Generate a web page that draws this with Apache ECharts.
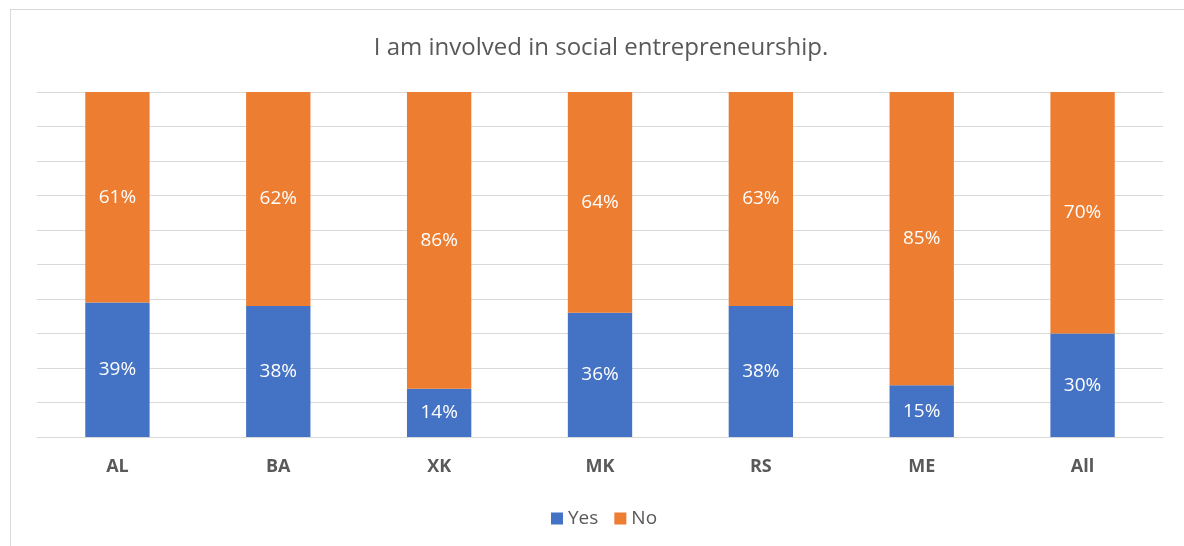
<!DOCTYPE html>
<html>
<head>
<meta charset="utf-8">
<script src="https://cdn.jsdelivr.net/npm/echarts@6/dist/echarts.min.js"></script>
<style>
  html, body { margin: 0; padding: 0; background: #fff; }
  #chart { width: 1184px; height: 546px; }
</style>
</head>
<body>
<div id="chart"></div>
<script>
// Share of respondents involved in social entrepreneurship, by country
const categories = ['AL', 'BA', 'XK', 'MK', 'RS', 'ME', 'All'];
const yesValues = [39, 38, 14, 36, 38, 15, 30];
const noValues = [61, 62, 86, 64, 63, 85, 70];
const seriesNames = ['Yes', 'No'];
const titleText = 'I am involved in social entrepreneurship.';

const FONT = '"Open Sans", "Liberation Sans", sans-serif';
const TEXT_GREY = '#595959';
const GRID_GREY = '#D9D9D9';

const chart = echarts.init(document.getElementById('chart'), null, { renderer: 'canvas' });

const labelStyle = {
  show: true,
  position: 'inside',
  color: '#ffffff',
  fontFamily: FONT,
  fontSize: 19,
  formatter: p => p.value + '%'
};

chart.setOption({
  animation: false,
  backgroundColor: '#ffffff',
  title: {
    text: titleText,
    left: 596,
    textAlign: 'center',
    top: 31,
    textStyle: { color: TEXT_GREY, fontFamily: FONT, fontSize: 24, fontWeight: 'normal' }
  },
  graphic: [
    { type: 'line', shape: { x1: 10, y1: 9.5, x2: 1184, y2: 9.5 }, style: { stroke: GRID_GREY, lineWidth: 1 } },
    { type: 'line', shape: { x1: 10.5, y1: 9, x2: 10.5, y2: 546 }, style: { stroke: GRID_GREY, lineWidth: 1 } }
  ],
  legend: {
    data: seriesNames,
    bottom: 13,
    left: 546,
    itemWidth: 12,
    itemHeight: 12,
    itemGap: 16,
    icon: 'rect',
    textStyle: { color: TEXT_GREY, fontFamily: FONT, fontSize: 19 }
  },
  grid: { left: 37, right: 21, top: 92, bottom: 109 },
  xAxis: {
    type: 'category',
    data: categories,
    axisLine: { show: true, lineStyle: { color: GRID_GREY, width: 1 } },
    axisTick: { show: false },
    axisLabel: { color: TEXT_GREY, fontFamily: FONT, fontSize: 18, fontWeight: 'bold', margin: 21 }
  },
  yAxis: {
    type: 'value',
    min: 0,
    max: 100,
    interval: 10,
    axisLine: { show: false },
    axisTick: { show: false },
    axisLabel: { show: false },
    splitLine: { show: true, lineStyle: { color: GRID_GREY, width: 1 } }
  },
  series: [
    {
      name: seriesNames[0],
      type: 'bar',
      stack: 'total',
      data: yesValues,
      barWidth: '40%',
      itemStyle: { color: '#4472C4' },
      label: labelStyle
    },
    {
      name: seriesNames[1],
      type: 'bar',
      stack: 'total',
      data: noValues,
      barWidth: '40%',
      itemStyle: { color: '#ED7D31' },
      label: labelStyle
    }
  ]
});
</script>
</body>
</html>
